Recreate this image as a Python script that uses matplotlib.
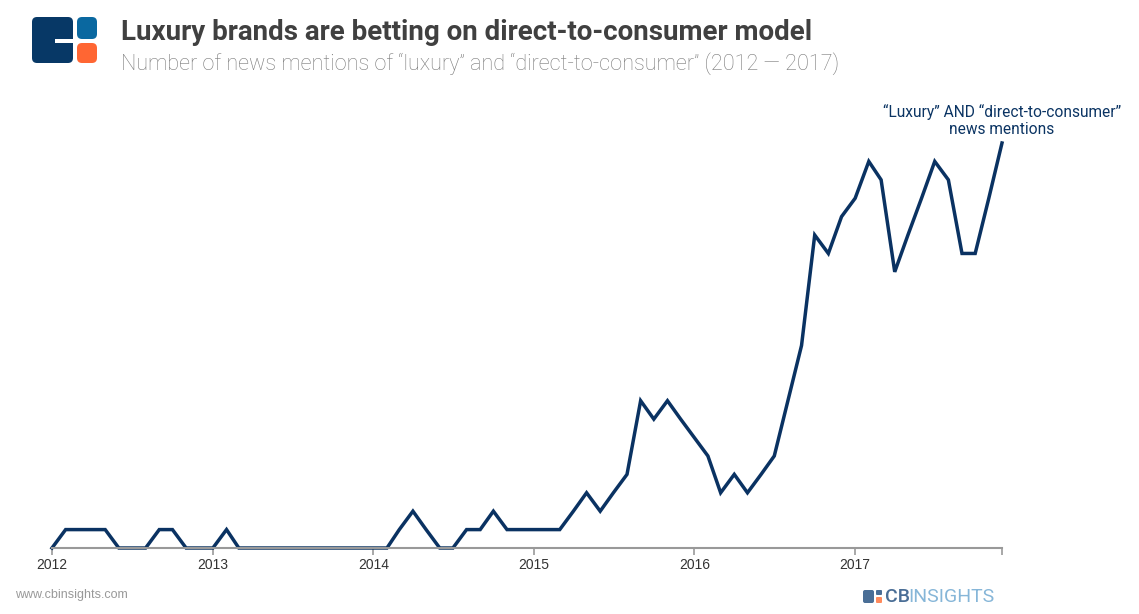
import matplotlib.pyplot as plt
import matplotlib.patches as patches
import pandas as pd

#monthly news mentions, Jan 2012 - Dec 2017
months = pd.date_range('2012-01-01', '2017-12-01', freq='MS')
mentions_2012 = [0, 1, 1, 1, 1, 0, 0, 0, 1, 1, 0, 0]
mentions_2013 = [0, 1, 0, 0, 0, 0, 0, 0, 0, 0, 0, 0]
mentions_2014 = [0, 0, 1, 2, 1, 0, 0, 1, 1, 2, 1, 1]
mentions_2015 = [1, 1, 1, 2, 3, 2, 3, 4, 8, 7, 8, 7]
mentions_2016 = [6, 5, 3, 4, 3, 4, 5, 8, 11, 17, 16, 18]
mentions_2017 = [19, 21, 20, 15, 17, 19, 21, 20, 16, 16, 19, 22]
mentions = mentions_2012 + mentions_2013 + mentions_2014 + mentions_2015 + mentions_2016 + mentions_2017

year_ticks = pd.to_datetime(['2012-01-01', '2013-01-01', '2014-01-01', '2015-01-01',
                             '2016-01-01', '2017-01-01', '2017-12-01'])
year_labels = ['2012', '2013', '2014', '2015', '2016', '2017', '']

plt.rcParams['font.family'] = ['Roboto', 'DejaVu Sans']

W, H = 1139, 614
fig = plt.figure(figsize=(W / 100, H / 100), dpi=100)

#axes placed to match pixel positions of the reference
ax = fig.add_axes([52 / W, (H - 548) / H, (1002 - 52) / W, (548 - 143) / H])
ax.plot(months, mentions, color='#0a3262', linewidth=2.5, clip_on=False,
        solid_joinstyle='miter')
ax.set_xlim(months[0], months[-1])
ax.set_ylim(0, 22)
ax.set_yticks([])
for s in ['top', 'right', 'left']:
    ax.spines[s].set_visible(False)
ax.spines['bottom'].set_color('#999999')
ax.spines['bottom'].set_linewidth(1.5)
ax.set_xticks(year_ticks)
ax.set_xticklabels(year_labels, fontsize=10, color='#333333', family=['Liberation Sans'])
ax.tick_params(axis='x', length=5, width=1.2, color='#999999', pad=2)

#annotation
ax.text(months[-1], 22.35, '\u201cLuxury\u201d AND \u201cdirect-to-consumer\u201d\nnews mentions',
        ha='center', va='bottom', fontsize=11.2, color='#0b3463', linespacing=1.1)

#titles
fig.text(121 / W, 1 - 32 / H, 'Luxury brands are betting on direct-to-consumer model',
         fontsize=20, fontweight='bold', color='#404040', va='center')
fig.text(121 / W, 1 - 64 / H,
         'Number of news mentions of \u201cluxury\u201d and \u201cdirect-to-consumer\u201d (2012 \u2014 2017)',
         fontsize=15.6, fontweight='light', color='#7a7a7a', va='center')

#logo top-left
def box(x0, y0, x1, y1, color, r=5):
    p = patches.FancyBboxPatch((x0 / W, 1 - y1 / H), (x1 - x0) / W, (y1 - y0) / H,
                               boxstyle=f'round,pad=0,rounding_size={r / W}',
                               transform=fig.transFigure, facecolor=color,
                               edgecolor='none', mutation_aspect=W / H)
    fig.patches.append(p)

box(32, 17, 73, 63, '#073866')
fig.patches.append(patches.Rectangle((55 / W, 1 - 43 / H), 18 / W, 4 / H,
                                     transform=fig.transFigure, facecolor='white',
                                     edgecolor='none'))
box(77, 17, 97, 39, '#0a68a0')
box(77, 43, 97, 63, '#ff6633')

#footer
fig.text(15 / W, 1 - 595 / H, 'www.cbinsights.com', fontsize=9, color='#999999', va='center',
         family=['Liberation Sans'])
box(863, 590, 874, 603, '#4a6e96', r=2)
box(876, 590, 882, 595, '#4a6e96', r=1)
box(876, 597, 882, 603, '#ff8a5c', r=1)
fig.text(885 / W, 1 - 597 / H, 'CB', fontsize=14, fontweight='medium', color='#4a6e96',
         va='center')
fig.text(908 / W, 1 - 597 / H, 'INSIGHTS', fontsize=14, color='#86b6d8', va='center')

plt.savefig('out.png', dpi=100)
